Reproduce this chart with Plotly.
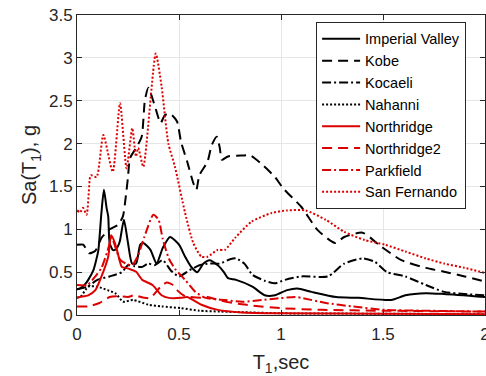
import plotly.graph_objects as go

# ---- data (period T1 in sec, Sa in g) ----
iv_t = [0.0, 0.015, 0.04, 0.055, 0.08, 0.095, 0.105, 0.12, 0.132, 0.145, 0.153, 0.16, 0.175, 0.186, 0.2, 0.21, 0.23, 0.25, 0.27, 0.29, 0.31, 0.325, 0.36, 0.39, 0.42, 0.456, 0.50, 0.53, 0.56, 0.59, 0.62, 0.65, 0.69, 0.72, 0.74, 0.78, 0.86, 0.92, 0.97, 1.03, 1.08, 1.15, 1.27, 1.38, 1.54, 1.61, 1.71, 1.80, 2.0]
iv_sa = [0.30, 0.31, 0.36, 0.41, 0.52, 0.65, 0.76, 1.20, 1.46, 1.25, 1.15, 0.84, 0.76, 0.76, 0.80, 0.86, 1.11, 0.84, 0.60, 0.60, 0.82, 0.84, 0.76, 0.60, 0.78, 0.91, 0.82, 0.68, 0.56, 0.50, 0.60, 0.64, 0.58, 0.50, 0.43, 0.41, 0.33, 0.23, 0.23, 0.29, 0.31, 0.27, 0.21, 0.20, 0.175, 0.23, 0.255, 0.245, 0.21]

kobe_t = [0.0, 0.03, 0.06, 0.09, 0.12, 0.16, 0.2, 0.225, 0.24, 0.25, 0.26, 0.29, 0.317, 0.333, 0.35, 0.38, 0.41, 0.43, 0.456, 0.49, 0.51, 0.54, 0.57, 0.585, 0.60, 0.64, 0.66, 0.685, 0.70, 0.71, 0.74, 0.81, 0.85, 0.91, 0.97, 1.01, 1.10, 1.18, 1.265, 1.31, 1.40, 1.49, 1.59, 1.71, 1.80, 1.90, 2.0]
kobe_sa = [0.82, 0.82, 0.72, 0.75, 0.90, 1.00, 1.05, 1.15, 1.40, 1.61, 1.83, 1.95, 2.08, 2.51, 2.65, 2.45, 2.24, 2.33, 2.35, 2.26, 2.02, 1.79, 1.54, 1.46, 1.63, 1.79, 1.98, 2.08, 1.95, 1.81, 1.85, 1.86, 1.86, 1.75, 1.61, 1.48, 1.26, 0.99, 0.84, 0.91, 0.96, 0.80, 0.64, 0.55, 0.505, 0.45, 0.39]

koc_t = [0.0, 0.05, 0.1, 0.16, 0.22, 0.25, 0.28, 0.317, 0.35, 0.38, 0.42, 0.46, 0.5, 0.55, 0.6, 0.65, 0.7, 0.75, 0.78, 0.82, 0.86, 0.92, 0.97, 1.02, 1.1, 1.23, 1.31, 1.4, 1.46, 1.52, 1.61, 1.71, 1.8, 1.9, 2.0]
koc_sa = [0.30, 0.33, 0.41, 0.45, 0.50, 0.58, 0.57, 0.56, 0.60, 0.58, 0.64, 0.52, 0.45, 0.52, 0.58, 0.60, 0.60, 0.65, 0.66, 0.60, 0.47, 0.40, 0.37, 0.41, 0.45, 0.45, 0.60, 0.66, 0.62, 0.50, 0.45, 0.35, 0.27, 0.245, 0.23]

nah_t = [0.0, 0.02, 0.055, 0.1, 0.15, 0.19, 0.225, 0.275, 0.35, 0.415, 0.51, 0.6, 0.7, 0.85, 1.0, 1.5, 2.0]
nah_sa = [0.20, 0.22, 0.33, 0.33, 0.29, 0.25, 0.155, 0.175, 0.12, 0.10, 0.08, 0.05, 0.04, 0.03, 0.02, 0.015, 0.01]

nr_t = [0.0, 0.015, 0.055, 0.09, 0.12, 0.153, 0.167, 0.186, 0.2, 0.22, 0.24, 0.27, 0.29, 0.32, 0.37, 0.415, 0.45, 0.51, 0.54, 0.61, 0.69, 0.81, 1.0, 1.5, 2.0]
nr_sa = [0.20, 0.21, 0.23, 0.29, 0.45, 0.68, 0.93, 0.84, 0.72, 0.56, 0.55, 0.525, 0.505, 0.41, 0.35, 0.23, 0.20, 0.20, 0.21, 0.12, 0.06, 0.03, 0.02, 0.015, 0.01]

nr2_t = [0.0, 0.055, 0.11, 0.16, 0.2, 0.25, 0.28, 0.33, 0.36, 0.41, 0.44, 0.47, 0.49, 0.53, 0.61, 0.64, 0.7, 0.79, 0.86, 1.0, 1.2, 1.5, 2.0]
nr2_sa = [0.10, 0.10, 0.14, 0.21, 0.22, 0.21, 0.23, 0.20, 0.20, 0.33, 0.38, 0.35, 0.29, 0.22, 0.20, 0.21, 0.17, 0.13, 0.11, 0.08, 0.06, 0.05, 0.04]

pk_t = [0.0, 0.05, 0.09, 0.12, 0.15, 0.17, 0.19, 0.21, 0.24, 0.27, 0.3, 0.33, 0.374, 0.4, 0.42, 0.45, 0.48, 0.53, 0.58, 0.63, 0.725, 0.81, 0.905, 0.97, 1.07, 1.10, 1.22, 1.35, 1.51, 1.71, 2.0]
pk_sa = [0.35, 0.35, 0.45, 0.55, 0.75, 0.90, 0.78, 0.65, 0.60, 0.58, 0.70, 0.91, 1.17, 1.11, 0.89, 0.66, 0.54, 0.41, 0.27, 0.20, 0.175, 0.155, 0.175, 0.19, 0.21, 0.20, 0.14, 0.10, 0.06, 0.05, 0.04]

sf_t = [0.0, 0.015, 0.03, 0.047, 0.064, 0.069, 0.096, 0.129, 0.175, 0.211, 0.243, 0.271, 0.289, 0.30, 0.325, 0.386, 0.415, 0.448, 0.48, 0.53, 0.57, 0.61, 0.64, 0.69, 0.725, 0.775, 0.856, 0.954, 1.03, 1.12, 1.22, 1.31, 1.41, 1.51, 1.61, 1.71, 1.80, 1.90, 2.0]
sf_sa = [1.22, 1.20, 1.25, 1.17, 1.61, 1.63, 1.61, 2.10, 1.67, 2.47, 1.71, 2.18, 1.85, 1.95, 1.73, 3.05, 2.66, 2.00, 1.73, 1.19, 0.84, 0.68, 0.68, 0.76, 0.76, 0.90, 1.09, 1.19, 1.22, 1.22, 1.11, 0.97, 0.875, 0.82, 0.74, 0.66, 0.60, 0.55, 0.49]

names = ["Imperial Valley", "Kobe", "Kocaeli", "Nahanni", "Northridge", "Northridge2", "Parkfield", "San Fernando"]

x_ticks = [0, 0.5, 1, 1.5, 2]
x_ticklabels = ["0", "0.5", "1", "1.5", "2"]
y_ticks = [0, 0.5, 1, 1.5, 2, 2.5, 3, 3.5]
y_ticklabels = ["0", "0.5", "1", "1.5", "2", "2.5", "3", "3.5"]

BLACK = "#000000"
RED = "#dd0000"
DOT = "2px,2px"
DASH = "10px,6px"
DASHDOT = "9px,3px,2px,3px"

series = [
    (iv_t, iv_sa, BLACK, "solid"),
    (kobe_t, kobe_sa, BLACK, DASH),
    (koc_t, koc_sa, BLACK, DASHDOT),
    (nah_t, nah_sa, BLACK, DOT),
    (nr_t, nr_sa, RED, "solid"),
    (nr2_t, nr2_sa, RED, DASH),
    (pk_t, pk_sa, RED, DASHDOT),
    (sf_t, sf_sa, RED, DOT),
]

fig = go.Figure()
for name, (t, sa, color, dash) in zip(names, series):
    fig.add_trace(go.Scatter(x=t, y=sa, mode="lines", name=name,
                             line=dict(color=color, width=2, dash=dash, shape="spline", smoothing=0.6)))

FONT = "Liberation Sans, Arial, sans-serif"
axis_common = dict(showline=True, linecolor="#262626", linewidth=1, mirror="ticks",
                   ticks="inside", ticklen=5, tickcolor="#262626", showgrid=True,
                   gridcolor="#e6e6e6", gridwidth=1, zeroline=False, automargin=False,
                   ticklabeloverflow="allow",
                   tickfont=dict(family=FONT, size=17, color="#262626"))

fig.update_layout(
    template="none",
    width=486, height=376,
    margin=dict(l=77, r=1, t=15, b=61),
    paper_bgcolor="white", plot_bgcolor="white",
    font=dict(family=FONT, color="#262626"),
    showlegend=True,
    legend=dict(x=0.586, y=0.977, xanchor="left", yanchor="top",
                bgcolor="white", bordercolor="#262626", borderwidth=1,
                font=dict(family=FONT, size=14.5, color="#000000"),
                itemwidth=38, tracegroupgap=0),
    xaxis=dict(range=[0, 2], tickvals=x_ticks, ticktext=x_ticklabels, ticklabelstandoff=4,
               title=dict(text="T<sub>1</sub>,sec", font=dict(family=FONT, size=20, color="#262626"), standoff=16),
               **axis_common),
    yaxis=dict(range=[0, 3.5], tickvals=y_ticks, ticktext=y_ticklabels,
               title=dict(text="Sa(T<sub>1</sub>), g", font=dict(family=FONT, size=20, color="#262626"), standoff=6),
               **axis_common),
)

fig.write_html("out.html", config={"displayModeBar": False})

# remove default page margin so the figure sits at the window origin
with open("out.html", "r", encoding="utf-8") as f:
    html = f.read()
html = html.replace("<head>", "<head><style>html,body{margin:0;padding:0;overflow:hidden;}</style>", 1)
with open("out.html", "w", encoding="utf-8") as f:
    f.write(html)
